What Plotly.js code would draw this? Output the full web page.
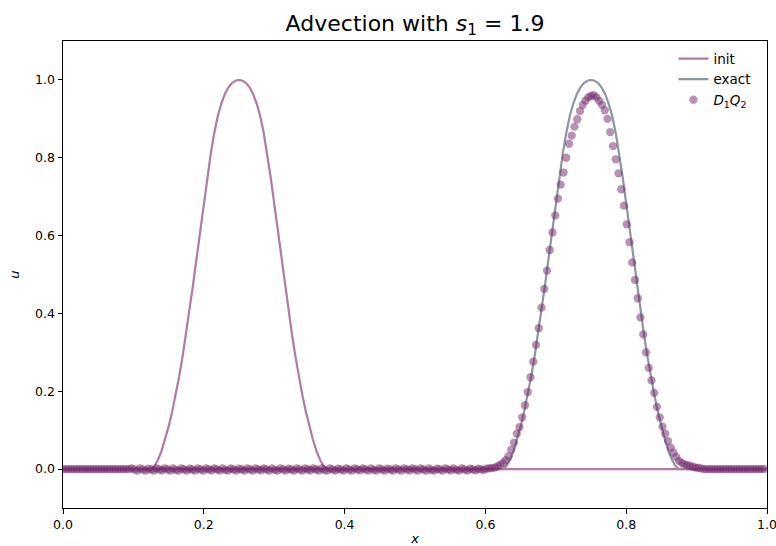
<!DOCTYPE html>
<html>
<head>
<meta charset="utf-8">
<script src="https://cdn.plot.ly/plotly-3.0.1.min.js"></script>
<style>html,body{margin:0;padding:0;background:#fff;}#chart{width:776px;height:546px;}</style>
</head>
<body>
<div id="chart"></div>
<script>
// ---- data ----
const initX = [0, 0.125, 0.13, 0.135, 0.14, 0.145, 0.15, 0.155, 0.16, 0.165, 0.17, 0.175, 0.18, 0.185, 0.19, 0.195, 0.2, 0.205, 0.21, 0.215, 0.22, 0.225, 0.23, 0.235, 0.24, 0.245, 0.25,
  0.255, 0.26, 0.265, 0.27, 0.275, 0.28, 0.285, 0.29, 0.295, 0.3, 0.305, 0.31, 0.315, 0.32, 0.325, 0.33, 0.335, 0.34, 0.345, 0.35, 0.355, 0.36, 0.365, 0.37, 0.375, 1];
const initU = [0, 0, 0.008, 0.024, 0.047, 0.076, 0.109, 0.147, 0.190, 0.238, 0.291, 0.349, 0.411, 0.477, 0.545, 0.614, 0.683, 0.750, 0.812, 0.865, 0.908, 0.940, 0.964, 0.981, 0.992, 0.998, 1.000,
  0.998, 0.992, 0.981, 0.964, 0.940, 0.908, 0.865, 0.812, 0.750, 0.683, 0.614, 0.545, 0.477, 0.411, 0.349, 0.291, 0.238, 0.190, 0.147, 0.109, 0.076, 0.047, 0.024, 0.008, 0, 0];

const exactX = [0, 0.625, 0.63, 0.635, 0.64, 0.645, 0.65, 0.655, 0.66, 0.665, 0.67, 0.675, 0.68, 0.685, 0.69, 0.695, 0.7, 0.705, 0.71, 0.715, 0.72, 0.725, 0.73, 0.735, 0.74, 0.745, 0.75,
  0.755, 0.76, 0.765, 0.77, 0.775, 0.78, 0.785, 0.79, 0.795, 0.8, 0.805, 0.81, 0.815, 0.82, 0.825, 0.83, 0.835, 0.84, 0.845, 0.85, 0.855, 0.86, 0.865, 0.87, 0.875, 1];
const exactU = [0, 0, 0.008, 0.024, 0.047, 0.076, 0.109, 0.147, 0.190, 0.238, 0.291, 0.349, 0.411, 0.477, 0.545, 0.614, 0.683, 0.750, 0.812, 0.865, 0.908, 0.940, 0.964, 0.981, 0.992, 0.998, 1.000,
  0.998, 0.992, 0.981, 0.964, 0.940, 0.908, 0.865, 0.812, 0.750, 0.683, 0.614, 0.545, 0.477, 0.411, 0.349, 0.291, 0.238, 0.190, 0.147, 0.109, 0.076, 0.047, 0.024, 0.008, 0, 0];

// D1Q2 numerical solution, 256 grid nodes
const d1q2U = [
  0,0,0,0,0,0,0,0,0,0, 0,0,0,0,0,0,0,0,0,0, 0,0,0,0,0,
  0.002,-0.001,-0.004, 0.002,-0.001,-0.004, 0.001,-0.001,-0.004, 0.002,-0.001,-0.003, 0.002,-0.001,-0.004,
  0.002,-0.002,-0.004, 0.002,-0.001,-0.004, 0.001,-0.001,-0.004, 0.002,-0.001,-0.004, 0.002,-0.001,-0.003,
  0.002,-0.001,-0.004, 0.002,-0.002,-0.004, 0.002,-0.001,-0.004, 0.001,-0.001,-0.004, 0.002,-0.001,-0.004,
  0.002,-0.001,-0.003, 0.002,-0.001,-0.004, 0.002,-0.002,-0.004, 0.002,-0.001,-0.004, 0.001,-0.001,-0.004,
  0.002,-0.001,-0.004, 0.002,-0.001,-0.003, 0.002,-0.001,-0.004, 0.002,-0.002,-0.004, 0.002,-0.001,-0.004,
  0.001,-0.001,-0.004, 0.002,-0.001,-0.004, 0.002,-0.001,-0.003, 0.002,-0.001,-0.004, 0.002,-0.002,-0.004,
  0.002,-0.001,-0.004, 0.001,-0.001,-0.004, 0.002,-0.001,-0.004, 0.002,-0.001,-0.003, 0.002,-0.001,-0.004,
  0.002,-0.001,-0.004, 0.002,-0.002,-0.004, 0.001,-0.001,-0.004, 0.002,-0.001,-0.003,
  0.002,-0.002,-0.004, 0.002,-0.001,-0.004, 0.001,-0.001,-0.003, 0.001,-0.001,-0.002, 0.001,
  0.002, 0.003, 0.004, 0.007, 0.011, 0.016, 0.023, 0.033, 0.050, 0.068,
  0.091, 0.108, 0.133, 0.164, 0.198, 0.236, 0.276, 0.319, 0.362, 0.415,
  0.463, 0.510, 0.563, 0.608, 0.652, 0.695, 0.731, 0.762, 0.800, 0.836,
  0.857, 0.880, 0.899, 0.920, 0.936, 0.947, 0.955, 0.959, 0.961, 0.955,
  0.946, 0.936, 0.922, 0.900, 0.866, 0.830, 0.796, 0.760, 0.719, 0.677,
  0.629, 0.583, 0.531, 0.486, 0.439, 0.390, 0.346, 0.300, 0.260, 0.228,
  0.196, 0.160, 0.133, 0.109, 0.091, 0.072, 0.055, 0.042, 0.031, 0.021,
  0.016, 0.012, 0.010, 0.008, 0.006, 0.004, 0.003, 0.002,
  0,0,0,0,0,0,0,0,0,0, 0,0,0,0,0,0,0,0,0,0, 0,0,0
];
const nNodes = 256;
const d1q2X = d1q2U.map((_, i) => i / nNodes);

const xTicks = [0, 0.2, 0.4, 0.6, 0.8, 1.0];
const yTicks = [0, 0.2, 0.4, 0.6, 0.8, 1.0];

const FONT = 'DejaVu Sans, sans-serif';

const traces = [
  { x: exactX, y: exactU, mode: 'lines', name: 'exact', legendrank: 2,
    line: { color: '#8d959d', width: 2.2 }, hoverinfo: 'skip' },
  { x: initX, y: initU, mode: 'lines', name: 'init', legendrank: 1,
    line: { color: '#b07aa1', width: 2.2 }, hoverinfo: 'skip' },
  { x: d1q2X, y: d1q2U, mode: 'markers', name: '<i>D</i><sub>1</sub><i>Q</i><sub>2</sub>', legendrank: 3,
    marker: { color: '#72246a', opacity: 0.5, size: 8.3, line: { width: 0 } }, hoverinfo: 'skip' }
];

const axisCommon = {
  showline: true, linecolor: '#000', linewidth: 1, mirror: true,
  ticks: 'outside', ticklen: 4.5, tickwidth: 1, tickcolor: '#000',
  showgrid: false, zeroline: false,
  tickfont: { family: FONT, size: 12.5, color: '#000' },
  tickformat: '.1f', ticklabeloverflow: 'allow'
};

const layout = {
  width: 776, height: 546,
  margin: { l: 63, r: 9, t: 41, b: 38, pad: 0 },
  paper_bgcolor: '#fff', plot_bgcolor: '#fff',
  showlegend: true,
  title: { text: 'Advection with <i>s</i><sub>1</sub> = 1.9', font: { family: FONT, size: 22, color: '#000' },
           x: 0.5348, xref: 'container', xanchor: 'center', y: 0.958, yref: 'container', yanchor: 'middle' },
  xaxis: Object.assign({}, axisCommon, { range: [0, 1], tickvals: xTicks, automargin: false,
    title: { text: '<i>x</i>', font: { family: FONT, size: 13, color: '#000' }, standoff: 4 } }),
  yaxis: Object.assign({}, axisCommon, { range: [-0.1, 1.1], tickvals: yTicks, automargin: false,
    title: { text: '<i>u</i>', font: { family: FONT, size: 13, color: '#000' }, standoff: 12 } }),
  legend: { x: 0.985, xanchor: 'right', y: 0.995, yanchor: 'top', bgcolor: 'rgba(0,0,0,0)',
            font: { family: FONT, size: 13.5, color: '#000' }, tracegroupgap: 0, itemwidth: 30 }
};

Plotly.newPlot('chart', traces, layout, { staticPlot: true, displayModeBar: false });
</script>
</body>
</html>
